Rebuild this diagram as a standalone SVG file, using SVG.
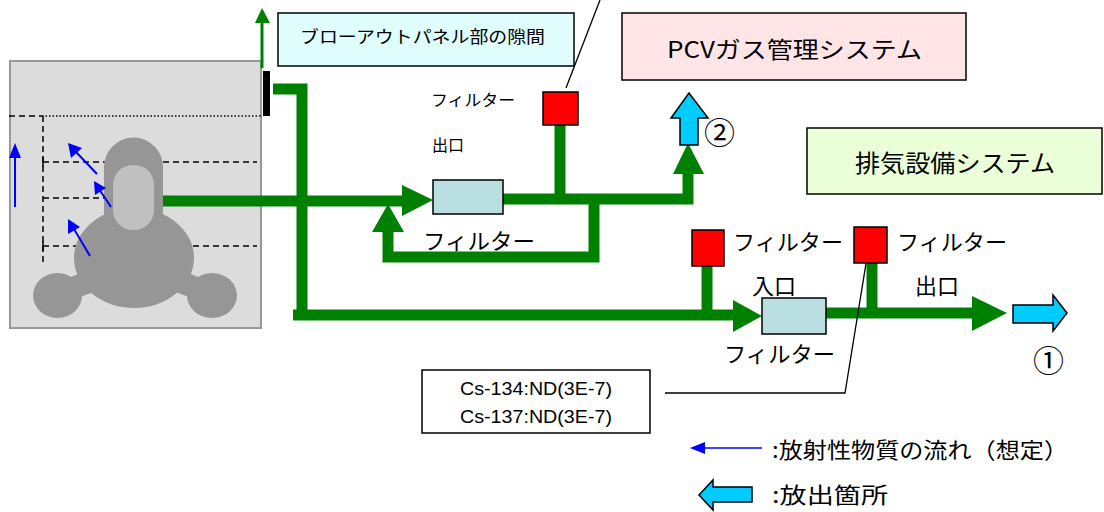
<svg xmlns="http://www.w3.org/2000/svg" width="1104" height="512" viewBox="0 0 1104 512">
  <style>
    .jp { font-family: "Noto Sans CJK JP", "Noto Sans", sans-serif; fill: #000; }
    .lat { font-family: "Liberation Sans", "Noto Sans CJK JP", sans-serif; fill: #000; }
    .box { stroke: #000; stroke-width: 1.5; }
    .pipe { fill: none; stroke: #008000; stroke-width: 11; stroke-linejoin: miter; stroke-linecap: butt; }
    .head { fill: #008000; }
    .redf { fill: #ff0000; stroke: #000; stroke-width: 1.5; }
    .filt { fill: #b9dfe2; stroke: #000; stroke-width: 1.5; }
    .rel { fill: #00ccff; stroke: #000; stroke-width: 1.5; stroke-linejoin: miter; }
    .dash { fill: none; stroke: #000; stroke-width: 1.5; stroke-dasharray: 6 4; }
    .flow { fill: none; stroke: #0000ff; stroke-width: 2; }
    .flowhead { fill: #0000ff; }
    .lead { fill: none; stroke: #000; stroke-width: 1.3; }
  </style>

  <!-- reactor building with containment vessel -->
  <g id="building">
    <rect x="10" y="61" width="251" height="267" fill="#dcdcdc" stroke="#999999" stroke-width="2"/>
    <line x1="9" y1="116" x2="42" y2="116" class="dash"/>
    <line x1="42" y1="116" x2="262" y2="116" stroke="#000" stroke-width="1.3" stroke-dasharray="1.5 2"/>
    <line x1="43" y1="116" x2="43" y2="264" class="dash"/>
    <line x1="43" y1="162" x2="257" y2="162" class="dash"/>
    <line x1="43" y1="198" x2="257" y2="198" class="dash"/>
    <line x1="43" y1="246" x2="257" y2="246" class="dash"/>
    <line x1="43" y1="157" x2="43" y2="167" stroke="#000" stroke-width="1.5"/>
    <line x1="43" y1="241" x2="43" y2="251" stroke="#000" stroke-width="1.5"/>
  </g>

  <g id="vessel" fill="#969696">
    <ellipse cx="134" cy="258" rx="60" ry="50"/>
    <path d="M104,230 L104,167 A29.5,29.5 0 0 1 163,167 L163,230 Z"/>
    <ellipse cx="57.5" cy="295.5" rx="24.5" ry="22.5"/>
    <ellipse cx="212" cy="295.5" rx="25" ry="22.5"/>
    <path d="M64,280 L92,268 L104,288 L72,300 Z"/>
    <path d="M205,280 L177,268 L165,288 L197,300 Z"/>
    <rect x="113" y="165" width="41" height="65" rx="20" ry="20" fill="#c0c0c0"/>
  </g>

  <!-- blow-out panel -->
  <g id="blowout-panel">
    <rect x="263" y="71" width="7" height="45" fill="#000"/>
    <line x1="262" y1="68" x2="262" y2="22" stroke="#008000" stroke-width="3"/>
    <polygon points="262,8 255,23 270,23" class="head"/>
    <rect x="278" y="13" width="296" height="53" fill="#e1feff" class="box"/>
    <text x="300" y="43" font-size="17" class="jp" textLength="245" lengthAdjust="spacingAndGlyphs">ブローアウトパネル部の隙間</text>
  </g>

  <!-- radioactive flow arrows (assumed) -->
  <g id="flow-arrows">
    <line x1="15" y1="207" x2="15" y2="156" class="flow"/>
    <polygon points="15,143 9,158 21,158" class="flowhead"/>
    <line x1="97" y1="174" x2="76" y2="152" class="flow"/>
    <polygon points="68,143 71,158 82,148" class="flowhead"/>
    <line x1="111" y1="207" x2="99" y2="189" class="flow"/>
    <polygon points="94,181 95,195 106,188" class="flowhead"/>
    <line x1="90" y1="256" x2="74" y2="229" class="flow"/>
    <polygon points="68,219 68,234 80,227" class="flowhead"/>
  </g>

  <!-- piping -->
  <g id="connectors">
    <polyline points="163,201 402,201" class="pipe"/>
    <polygon points="433,200 402,185 402,216" class="head"/>
    <polyline points="273,89 302,89 302,315" class="pipe"/>
    <polyline points="293,315 733,315" class="pipe"/>
    <polygon points="762,316 733,300 733,332" class="head"/>
    <polyline points="503,199 688,199 688,173" class="pipe"/>
    <polygon points="688,143 673,174 704,174" class="head"/>
    <polyline points="594,199 594,257 388,257 388,231" class="pipe"/>
    <polygon points="388,204 372,232 404,232" class="head"/>
    <line x1="560" y1="125" x2="560" y2="199" class="pipe"/>
    <line x1="707" y1="266" x2="707" y2="315" class="pipe"/>
    <polyline points="826,313 972,313" class="pipe"/>
    <polygon points="1007,313 972,296 972,331" class="head"/>
    <line x1="872" y1="263" x2="872" y2="313" class="pipe"/>
    <!-- leader lines -->
    <line x1="600" y1="0" x2="566" y2="88" class="lead"/>
    <polyline points="869,245 845,393 665,393" class="lead"/>
  </g>

  <!-- filters -->
  <g id="upper-filter">
    <rect x="433" y="180" width="70" height="34" class="filt"/>
    <text x="423" y="249" font-size="22" class="jp" textLength="112" lengthAdjust="spacingAndGlyphs">フィルター</text>
    <text x="431" y="106" font-size="16" class="jp" textLength="84" lengthAdjust="spacingAndGlyphs">フィルター</text>
    <text x="432" y="151" font-size="16" class="jp">出口</text>
  </g>
  <g id="upper-sample-filter">
    <rect x="543" y="92" width="35" height="33" class="redf"/>
  </g>

  <g id="lower-filter">
    <rect x="762" y="298" width="64" height="36" class="filt"/>
    <text x="724" y="362" font-size="22" class="jp" textLength="111" lengthAdjust="spacingAndGlyphs">フィルター</text>
    <text x="752" y="294" font-size="22" class="jp">入口</text>
    <text x="915" y="294" font-size="22" class="jp">出口</text>
  </g>
  <g id="inlet-sample-filter">
    <rect x="692" y="230" width="32" height="36" class="redf"/>
    <text x="733" y="250" font-size="22" class="jp" textLength="110" lengthAdjust="spacingAndGlyphs">フィルター</text>
  </g>
  <g id="outlet-sample-filter">
    <rect x="854" y="227" width="33" height="36" class="redf"/>
    <text x="897" y="250" font-size="22" class="jp" textLength="110" lengthAdjust="spacingAndGlyphs">フィルター</text>
  </g>

  <!-- systems -->
  <g id="pcv-gas-system">
    <rect x="622" y="13" width="344" height="67" fill="#ffe5e5" class="box"/>
    <text x="667" y="58" font-size="23" class="jp" textLength="255" lengthAdjust="spacingAndGlyphs">PCVガス管理システム</text>
  </g>
  <g id="exhaust-system">
    <rect x="807" y="128" width="295" height="66" fill="#ebffd8" class="box"/>
    <text x="855" y="172" font-size="24" class="jp" textLength="200" lengthAdjust="spacingAndGlyphs">排気設備システム</text>
  </g>

  <!-- release points -->
  <g id="release-2">
    <polygon points="689,93 708,118 698,118 698,145 680,145 680,118 671,118" class="rel"/>
    <text x="704" y="144" font-size="31" class="jp">②</text>
  </g>
  <g id="release-1">
    <polygon points="1067,313 1053,331 1053,323 1013,323 1013,305 1053,305 1053,295" class="rel"/>
    <text x="1033" y="372" font-size="31" class="jp">①</text>
  </g>

  <!-- measurement result -->
  <g id="result-box">
    <rect x="422" y="370" width="228" height="63" fill="#fff" class="box"/>
    <text x="460" y="395" font-size="18" class="lat" textLength="152" lengthAdjust="spacingAndGlyphs">Cs-134:ND(3E-7)</text>
    <text x="460" y="423" font-size="18" class="lat" textLength="152" lengthAdjust="spacingAndGlyphs">Cs-137:ND(3E-7)</text>
  </g>

  <!-- legend -->
  <g id="legend">
    <line x1="702" y1="448" x2="762" y2="448" stroke="#0000ff" stroke-width="1.5"/>
    <polygon points="690,448 705,442 705,454" class="flowhead"/>
    <text x="772" y="458" font-size="22" class="jp" textLength="296" lengthAdjust="spacingAndGlyphs">:放射性物質の流れ（想定）</text>
    <polygon points="699,495 713,480 713,487 752,487 752,502 713,502 713,510" class="rel"/>
    <text x="772" y="503" font-size="22" class="jp" textLength="116" lengthAdjust="spacingAndGlyphs">:放出箇所</text>
  </g>
</svg>
